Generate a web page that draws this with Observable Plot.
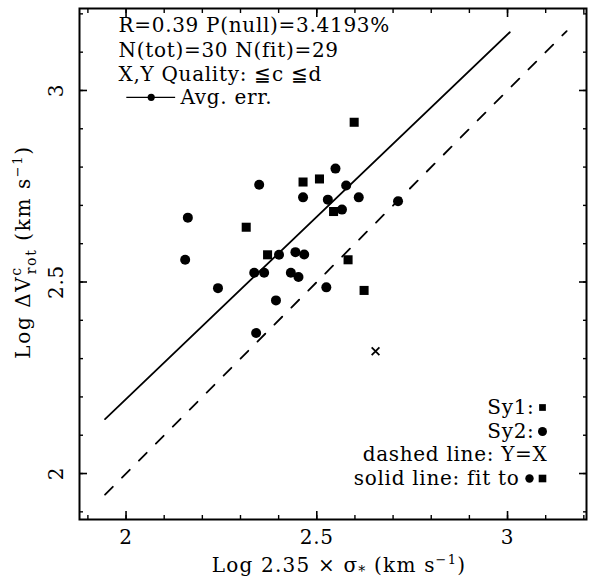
<!DOCTYPE html>
<html><head><meta charset="utf-8">
<script src="https://cdn.jsdelivr.net/npm/d3@7"></script>
<script src="https://cdn.jsdelivr.net/npm/@observablehq/plot@0.6"></script>
<style>
html,body{margin:0;padding:0;background:#fff}
</style>
</head><body><div id="chart"></div>
<script>
// Sy2 (circles)
const sy2X = [2.162, 2.155, 2.241, 2.349, 2.336, 2.362, 2.401, 2.393, 2.341, 2.444, 2.467, 2.432, 2.452, 2.525, 2.464, 2.529, 2.549, 2.577, 2.566, 2.610, 2.713];
const sy2Y = [2.668, 2.558, 2.484, 2.754, 2.524, 2.524, 2.571, 2.452, 2.367, 2.578, 2.572, 2.524, 2.513, 2.486, 2.721, 2.715, 2.796, 2.752, 2.689, 2.721, 2.711];
// Sy1 (squares)
const sy1X = [2.598, 2.464, 2.507, 2.315, 2.371, 2.544, 2.582, 2.624];
const sy1Y = [2.917, 2.761, 2.769, 2.643, 2.571, 2.684, 2.558, 2.478];
// excluded from fit (cross)
const exclX = [2.654];
const exclY = [2.319];
// lines
const identityX = [1.945, 3.155];
const fitX = [1.945, 3.006];
const fitY = [2.142, 3.152];
// average error bar
const avgErrX = [2.066];
const avgErrY = [2.982];
const avgErrHalf = [0.064];
// ticks
const minorTicks = [1.9, 2.0, 2.1, 2.2, 2.3, 2.4, 2.5, 2.6, 2.7, 2.8, 2.9, 3.0, 3.1, 3.2];
const majorTicks = [2, 2.5, 3];
const tickLabels = ["2", "2.5", "3"];
const statLines = ["R=0.39 P(null)=3.4193%", "N(tot)=30 N(fit)=29", "X,Y Quality: \u2266c \u2266d"];
const avgErrLabel = "Avg. err.";
const legendLines = ["Sy1:", "Sy2:", "dashed line: Y=X", "solid line: fit to"];

const sy2 = sy2X.map((x, i) => ({x, y: sy2Y[i]}));
const sy1 = sy1X.map((x, i) => ({x, y: sy1Y[i]}));
const excl = exclX.map((x, i) => ({x, y: exclY[i]}));
const identity = identityX.map(x => ({x, y: x}));
const fit = fitX.map((x, i) => ({x, y: fitY[i]}));
const avgErr = avgErrX.map((x, i) => ({x, y: avgErrY[i], x1: x - avgErrHalf[i], x2: x + avgErrHalf[i]}));
const majorData = majorTicks.map((v, i) => ({v, t: tickLabels[i]}));

const FS = 20;
const MINOR = 4, MAJOR = 8;
const tickAxes = [
  Plot.axisX(minorTicks, {anchor: "bottom", tickSize: MINOR, dy: -MINOR, text: null, strokeWidth: 1.4}),
  Plot.axisX(majorTicks, {anchor: "bottom", tickSize: MAJOR, dy: -MAJOR, text: null, strokeWidth: 1.6}),
  Plot.axisX(minorTicks, {anchor: "top", tickSize: MINOR, dy: MINOR, text: null, strokeWidth: 1.4}),
  Plot.axisX(majorTicks, {anchor: "top", tickSize: MAJOR, dy: MAJOR, text: null, strokeWidth: 1.6}),
  Plot.axisY(minorTicks, {anchor: "left", tickSize: MINOR, dx: MINOR, text: null, strokeWidth: 1.4}),
  Plot.axisY(majorTicks, {anchor: "left", tickSize: MAJOR, dx: MAJOR, text: null, strokeWidth: 1.6}),
  Plot.axisY(minorTicks, {anchor: "right", tickSize: MINOR, dx: -MINOR, text: null, strokeWidth: 1.4}),
  Plot.axisY(majorTicks, {anchor: "right", tickSize: MAJOR, dx: -MAJOR, text: null, strokeWidth: 1.6})
];

const plot = Plot.plot({
  width: 590, height: 582,
  marginLeft: 79, marginRight: 4, marginTop: 8, marginBottom: 63,
  x: {domain: [1.878, 3.207]},
  y: {domain: [1.880, 3.214]},
  style: {fontFamily: "DejaVu Serif", fontSize: FS + "px", color: "#000", background: "#fff", overflow: "visible", letterSpacing: "0.7px"},
  marks: [
    ...tickAxes,
    Plot.frame({stroke: "#000", strokeWidth: 2}),
    // x tick labels
    Plot.text(majorData, {x: "v", text: "t", frameAnchor: "bottom", dy: 24, fontSize: FS}),
    // y tick labels (rotated)
    Plot.text(majorData, {y: "v", text: "t", frameAnchor: "left", textAnchor: "middle", dx: -23, rotate: -90, fontSize: FS}),
    // axis titles
    Plot.text(["X"], {frameAnchor: "bottom", dy: 52, dx: 6, fontSize: FS, className: "xtitle"}),
    Plot.text(["Y"], {frameAnchor: "left", textAnchor: "middle", dx: -56, dy: -12, rotate: -90, fontSize: FS, className: "ytitle"}),
    // lines
    Plot.line(identity, {x: "x", y: "y", stroke: "#000", strokeWidth: 1.8, strokeDasharray: "11,13"}),
    Plot.line(fit, {x: "x", y: "y", stroke: "#000", strokeWidth: 1.8}),
    // data
    Plot.dot(sy2, {x: "x", y: "y", r: 5, fill: "#000", stroke: "none"}),
    Plot.dot(sy1, {x: "x", y: "y", r: 5.1, symbol: "square", fill: "#000", stroke: "none"}),
    Plot.dot(excl, {x: "x", y: "y", r: 3.6, symbol: "times", stroke: "#000", strokeWidth: 1.8}),
    // avg err
    Plot.ruleY(avgErr, {y: "y", x1: "x1", x2: "x2", stroke: "#000", strokeWidth: 1.3}),
    Plot.dot(avgErr, {x: "x", y: "y", r: 3.6, fill: "#000", stroke: "none"}),
    // stats text
    Plot.text([statLines[0]], {frameAnchor: "top-left", dx: 39, dy: 17, lineAnchor: "middle", textAnchor: "start", fontSize: FS}),
    Plot.text([statLines[1]], {frameAnchor: "top-left", dx: 39, dy: 42, lineAnchor: "middle", textAnchor: "start", fontSize: FS}),
    Plot.text([statLines[2]], {frameAnchor: "top-left", dx: 39, dy: 66, lineAnchor: "middle", textAnchor: "start", fontSize: FS}),
    Plot.text([avgErrLabel], {frameAnchor: "top-left", dx: 101, dy: 89, lineAnchor: "middle", textAnchor: "start", fontSize: FS}),
    // legend bottom-right
    Plot.text([legendLines[0]], {frameAnchor: "bottom-right", dx: -52, dy: -112, lineAnchor: "middle", textAnchor: "end", fontSize: FS}),
    Plot.dot([0], {frameAnchor: "bottom-right", dx: -44, dy: -112, r: 3.8, symbol: "square", fill: "#000", stroke: "none"}),
    Plot.text([legendLines[1]], {frameAnchor: "bottom-right", dx: -52, dy: -88, lineAnchor: "middle", textAnchor: "end", fontSize: FS}),
    Plot.dot([0], {frameAnchor: "bottom-right", dx: -44, dy: -88, r: 4.5, fill: "#000", stroke: "none"}),
    Plot.text([legendLines[2]], {frameAnchor: "bottom-right", dx: -39, dy: -65, lineAnchor: "middle", textAnchor: "end", fontSize: FS}),
    Plot.text([legendLines[3]], {frameAnchor: "bottom-right", dx: -67, dy: -41, lineAnchor: "middle", textAnchor: "end", fontSize: FS}),
    Plot.dot([0], {frameAnchor: "bottom-right", dx: -57, dy: -41, r: 4.2, fill: "#000", stroke: "none"}),
    Plot.dot([0], {frameAnchor: "bottom-right", dx: -44, dy: -41, r: 4.3, symbol: "square", fill: "#000", stroke: "none"})
  ]
});
document.getElementById("chart").appendChild(plot);

// rich text for axis titles
function rich(sel, parts, spacing) {
  const t = plot.querySelector(sel + " text");
  if (!t) return;
  t.textContent = "";
  if (spacing) t.style.letterSpacing = spacing;
  for (const p of parts) {
    const s = document.createElementNS("http://www.w3.org/2000/svg", "tspan");
    s.textContent = p.t;
    if (p.dy) s.setAttribute("dy", p.dy);
    if (p.dx) s.setAttribute("dx", p.dx);
    if (p.fs) s.setAttribute("font-size", p.fs);
    t.appendChild(s);
  }
}
rich(".xtitle", [
  {t: "Log 2.35 \u00d7 \u03c3"},
  {t: "*", dy: 4, fs: 14},
  {t: " (km s", dy: -4},
  {t: "\u22121", dy: -8, fs: 13},
  {t: ")", dy: 8}
], "1.2px");
rich(".ytitle", [
  {t: "Log \u0394V"},
  {t: "c", dy: -9, fs: 14},
  {t: "rot", dy: 15, dx: -8, fs: 14},
  {t: " (km s", dy: -6},
  {t: "\u22121", dy: -8, fs: 13},
  {t: ")", dy: 8}
], "1.6px");
</script>
</body></html>
